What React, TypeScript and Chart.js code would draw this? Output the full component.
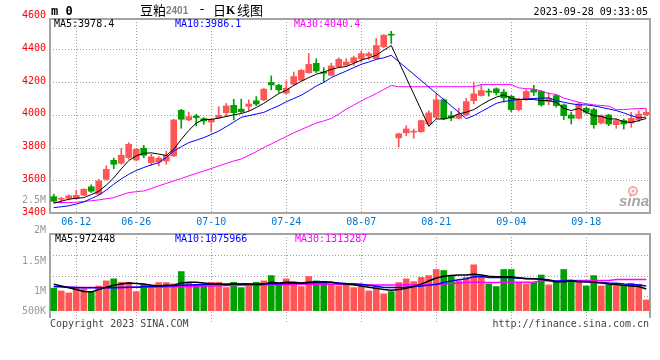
import React, { useEffect, useRef } from "react";
import { Chart, registerables } from "chart.js";
Chart.register(...registerables);

// ---------- data ----------
const dates = [
  "06-07","06-08","06-09","06-12","06-13","06-14","06-15","06-16","06-19","06-20","06-21","06-26","06-27","06-28","06-29","06-30",
  "07-03","07-04","07-05","07-06","07-07","07-10","07-11","07-12","07-13","07-14","07-17","07-18","07-19","07-20","07-21","07-24","07-25","07-26","07-27","07-28","07-31",
  "08-01","08-02","08-03","08-04","08-07","08-08","08-09","08-10","08-11","08-14","08-15","08-16","08-17","08-18","08-21","08-22","08-23","08-24","08-25","08-28","08-29","08-30","08-31",
  "09-01","09-04","09-05","09-06","09-07","09-08","09-11","09-12","09-13","09-14","09-15","09-18","09-19","09-20","09-21","09-22","09-25","09-26","09-27","09-28",
];
const tickDates = ["06-12","06-26","07-10","07-24","08-07","08-21","09-04","09-18"];

const openP = [3500,3484,3490,3488,3509,3560,3515,3606,3722,3704, 3739,3724,3796,3708,3712,3718,3749,4028,3969,3993, 3977,3956,3983,4013,4058,4035,4052,4086,4092,4198, 4181,4133,4187,4212,4258,4315,4262,4242,4295,4303, 4319,4343,4360,4343,4416,4491,3859,3890,3894,3897, 3945,3985,4092,3995,3979,4000,4087,4118,4143,4159, 4139,4114,4032,4098,4155,4143,4081,4118,4061,3999, 3979,4040,4032,3950,3999,3940,3965,3950,3971,4001];
const highP = [3515,3495,3511,3539,3549,3572,3606,3688,3735,3794, 3830,3793,3814,3759,3745,3779,3973,4034,4017,4003, 3983,3977,4050,4070,4095,4096,4092,4112,4161,4238, 4187,4208,4262,4278,4376,4343,4289,4315,4349,4343, 4360,4390,4384,4467,4491,4511,3888,3934,3914,3967, 4025,4128,4098,4020,4040,4102,4200,4184,4159,4165, 4155,4118,4102,4155,4180,4149,4135,4122,4067,4016, 4077,4046,4040,3999,4003,3975,3975,4016,4026,4036];
const lowP = [3465,3460,3480,3484,3505,3525,3511,3602,3671,3698, 3729,3718,3739,3692,3688,3698,3745,3918,3963,3932, 3942,3895,3977,3989,3969,4011,4025,4056,4086,4153, 4137,4127,4181,4208,4254,4258,4198,4238,4289,4299, 4303,4323,4339,4339,4410,4436,3803,3873,3857,3893, 3940,3979,3971,3965,3975,3995,4067,4114,4114,4122, 4077,4020,4026,4087,4118,4053,4061,4047,3971,3944, 3975,4006,3918,3944,3934,3918,3913,3924,3958,3995];
const closeP = [3472,3490,3505,3508,3545,3533,3596,3667,3698,3753, 3820,3789,3753,3743,3735,3753,3969,3973,3989,3983, 3963,3973,3997,4054,4013,4019,4066,4066,4157,4183, 4153,4163,4234,4272,4309,4268,4254,4299,4339,4323, 4349,4374,4374,4424,4487,4487,3884,3914,3900,3965, 4012,4092,3975,3981,4001,4081,4128,4149,4139,4135, 4104,4032,4094,4143,4139,4061,4102,4057,3995,3979, 4067,4016,3940,3995,3944,3965,3944,3979,4005,4016];

const ma5 = [3460,3472,3484,3490,3494,3512,3533,3570,3615,3670, 3720,3750,3765,3768,3760,3752,3790,3850,3905,3950, 3972,3972,3980,3990,4000,4008,4022,4045,4070,4100, 4130,4150,4180,4205,4228,4248,4262,4278,4290,4295, 4315,4335,4348,4365,4395,4424,null,null,null,null, 3930,3975,3975,3985,4006,4016,4032,4061,4087,4108, 4122,4102,4094,4094,4094,4087,4087,4077,4040,4026, 4040,4016,3995,3991,3975,3975,3958,3954,3965,3978];
const ma10 = [3433,3438,3444,3455,3468,3488,3509,3540,3576,3608, 3637,3660,3678,3694,3708,3740,3779,3805,3830,3845, 3861,3880,3901,3928,3956,3985,3995,4005,4015,4036, 4056,4080,4100,4120,4147,4177,4198,4228,4248,4268, 4289,4309,4323,4339,4349,4364,null,null,null,null, null,null,null,null,null,3977,3995,4020,4045,4070, 4082,4088,4094,4097,4100,4102,4104,4087,4077,4068, 4061,4061,4055,4046,4036,4026,4012,3995,3982,3986];
const ma30 = [3464,3464,3464,3466,3470,3475,3480,3487,3494,3510, 3525,3530,3535,3550,3566,3581,3596,3611,3627,3642, 3657,3672,3688,3703,3718,3730,3752,3775,3800,3822, 3845,3868,3890,3910,3930,3950,3963,3978,4005,4035, 4060,4085,4108,4130,4155,4180,4172,4172,4172,4172, 4172,4172,4172,4172,4172,4172,4172,4185,4185,4185, 4185,4185,4165,4160,4158,4145,4130,4125,4102,4090, 4077,4068,4061,4057,4053,4032,4032,4036,4038,4040];

const volumeK = [1053,1008,975,1060,1040,997,1090,1173,1206,1150, 1150,997,1118,1107,1145,1145,1124,1326,1135,1107, 1107,1150,1150,1063,1150,1063,1107,1150,1173,1260, 1118,1206,1150,1080,1245,1173,1160,1118,1090,1118, 1063,1090,1008,1080,960,997,1145,1206,1160,1230, 1260,1360,1343,1245,1173,1230,1437,1255,1124,1080, 1360,1360,1150,1124,1150,1270,1107,1150,1360,1150, 1180,1090,1260,1090,1107,1090,1090,1135,1118,860];
const volMA5K = [1120,1090,1060,1030,1000,990,1030,1070,1100,1120, 1140,1130,1120,1100,1090,1100,1100,1140,1150,1150, 1140,1120,1120,1110,1120,1120,1120,1110,1120,1150, 1140,1150,1150,1140,1150,1160,1160,1150,1130,1120, 1110,1090,1070,1050,1030,1020,1030,1050,1080,1120, 1170,1220,1250,1260,1270,1270,1280,1270,1250,1240, 1240,1240,1220,1210,1210,1200,1180,1160,1160,1170, 1160,1160,1150,1140,1120,1110,1100,1090,1080,1040];
const volMA10K = [1080,1075,1070,1065,1060,1060,1060,1060,1062,1065, 1068,1070,1075,1080,1085,1090,1095,1100,1105,1110, 1115,1118,1120,1120,1120,1120,1120,1120,1120,1125, 1125,1130,1135,1135,1140,1145,1145,1150,1140,1130, 1125,1118,1100,1085,1063,1063,1063,1070,1080,1090, 1100,1118,1145,1173,1190,1206,1240,1245,1230,1228, 1228,1225,1220,1212,1206,1198,1190,1165,1175,1185, 1165,1160,1152,1148,1140,1135,1122,1115,1107,1090];
const volMA30K = [1080,1075,1070,1066,1064,1063,1063,1063,1064,1065, 1066,1067,1068,1069,1070,1072,1075,1078,1082,1085, 1088,1090,1093,1096,1099,1101,1103,1105,1107,1108, 1110,1112,1114,1116,1118,1119,1120,1118,1115,1112, 1110,1108,1107,1107,1107,1107,1107,1108,1110,1110, 1112,1115,1120,1130,1140,1145,1150,1150,1148,1148, 1150,1150,1150,1150,1152,1175,1176,1176,1177,1177, 1178,1178,1178,1178,1178,1195,1196,1196,1196,1196];

const priceTicks = [4600, 4400, 4200, 4000, 3800, 3600, 3400];
const priceGrid = [4400, 4200, 4000, 3800, 3600];
const volTickValues = [2500, 2000, 1500, 1000, 500];
const volTickLabels = ["2.5M", "2M", "1.5M", "1M", "500K"];
const volGrid = [1590, 1260, 930];

const mainLegend = ["MA5:3978.4", "MA10:3986.1", "MA30:4040.4"];
const volLegend = ["MA5:972448", "MA10:1075966", "MA30:1313287"];
const titleName = "豆粕";
const titleCode = "2401";
const timestamp = "2023-09-28 09:33:05";
const footLeft = "Copyright 2023 SINA.COM";
const footRight = "http://finance.sina.com.cn";

// ---------- styles ----------
const RED = "#ff5555";
const GREEN = "#00a000";
const MONO = '10px "DejaVu Sans Mono"';
const GRID = "#a0a0a0";
const FRAME = "#a4a4a4";

const candleColors = dates.map((_, i) => (closeP[i] >= openP[i] ? RED : GREEN));

function txt(ctx: CanvasRenderingContext2D, s: string, x: number, y: number, color: string, font: string, align: CanvasTextAlign = "left") {
  ctx.fillStyle = color;
  ctx.font = font;
  ctx.textAlign = align;
  ctx.textBaseline = "middle";
  ctx.fillText(s, x, y);
}

const mainDecor = {
  id: "mainDecor",
  beforeDatasetsDraw(chart: any) {
    const { ctx, chartArea: a, scales } = chart;
    const x = scales.x, y = scales.y;
    ctx.save();
    ctx.strokeStyle = GRID;
    ctx.lineWidth = 1;
    ctx.setLineDash([1, 2]);
    ctx.beginPath();
    priceGrid.forEach((v) => {
      const p = Math.round(y.getPixelForValue(v)) + 0.5;
      ctx.moveTo(a.left, p);
      ctx.lineTo(a.right, p);
    });
    tickDates.forEach((d) => {
      const p = Math.round(x.getPixelForValue(dates.indexOf(d))) + 0.5;
      ctx.moveTo(p, a.top);
      ctx.lineTo(p, a.bottom);
    });
    ctx.stroke();
    ctx.setLineDash([]);
    ctx.strokeStyle = FRAME;
    ctx.lineWidth = 2;
    ctx.strokeRect(a.left, a.top, a.right - a.left, a.bottom - a.top);
    // sina watermark
    ctx.strokeStyle = "rgba(240,150,150,0.8)";
    ctx.lineWidth = 2;
    ctx.beginPath();
    ctx.arc(633, 191, 4, 0, Math.PI * 2);
    ctx.stroke();
    ctx.fillStyle = "rgba(240,150,150,0.8)";
    ctx.beginPath();
    ctx.arc(633, 191, 1.5, 0, Math.PI * 2);
    ctx.fill();
    txt(ctx, "sina", 634, 202, "rgba(150,150,150,0.85)", 'italic bold 15px "Liberation Sans"', "center");
    ctx.restore();
  },
  afterDraw(chart: any) {
    const { ctx, scales } = chart;
    const x = scales.x, y = scales.y;
    ctx.save();
    txt(ctx, "m 0", 51, 12, "#000", 'bold 12px "DejaVu Sans Mono"');
    txt(ctx, titleName, 140, 10, "#000", '13px "Noto Sans CJK SC"');
    txt(ctx, titleCode, 166, 11, "#808080", 'bold 10px "Liberation Sans"');
    txt(ctx, "-", 202, 10, "#000", '13px "DejaVu Sans"', "center");
    txt(ctx, "日", 213, 10, "#000", '13px "Noto Sans CJK SC"');
    txt(ctx, "K", 226, 11, "#000", 'bold 12px "Liberation Serif"');
    txt(ctx, "线图", 237, 10, "#000", '13px "Noto Sans CJK SC"');
    txt(ctx, timestamp, 648, 12, "#000", MONO, "right");
    txt(ctx, mainLegend[0], 54, 24, "#000", MONO);
    txt(ctx, mainLegend[1], 175, 24, "#0000ff", MONO);
    txt(ctx, mainLegend[2], 294, 24, "#ff00ff", MONO);
    priceTicks.forEach((v) => txt(ctx, String(v), 46, y.getPixelForValue(v) - 1, "#ff0000", MONO, "right"));
    tickDates.forEach((d) => txt(ctx, d, x.getPixelForValue(dates.indexOf(d)), 222, "#0078d0", MONO, "center"));
    txt(ctx, footLeft, 50, 324, "#444", MONO);
    txt(ctx, footRight, 649, 324, "#444", MONO, "right");
    ctx.restore();
  },
};

const volDecor = {
  id: "volDecor",
  beforeDatasetsDraw(chart: any) {
    const { ctx, chartArea: a, scales } = chart;
    const x = scales.x, y = scales.y;
    ctx.save();
    ctx.strokeStyle = GRID;
    ctx.lineWidth = 1;
    ctx.setLineDash([1, 2]);
    ctx.beginPath();
    volGrid.forEach((v) => {
      const p = Math.round(y.getPixelForValue(v)) + 0.5;
      ctx.moveTo(a.left, p);
      ctx.lineTo(a.right, p);
    });
    tickDates.forEach((d) => {
      const p = Math.round(x.getPixelForValue(dates.indexOf(d))) + 0.5;
      ctx.moveTo(p, a.top);
      ctx.lineTo(p, a.bottom + 11);
    });
    ctx.stroke();
    ctx.setLineDash([]);
    ctx.strokeStyle = FRAME;
    ctx.lineWidth = 2;
    ctx.beginPath();
    ctx.moveTo(a.left, a.bottom + 7);
    ctx.lineTo(a.left, a.top);
    ctx.lineTo(a.right, a.top);
    ctx.lineTo(a.right, a.bottom + 7);
    ctx.stroke();
    ctx.restore();
  },
  afterDraw(chart: any) {
    const { ctx, chartArea: a, scales } = chart;
    const y = scales.y;
    ctx.save();
    volTickValues.forEach((v, i) => {
      const p = Math.min(y.getPixelForValue(v), a.bottom);
      txt(ctx, volTickLabels[i], 46, p, "#999", MONO, "right");
    });
    txt(ctx, volLegend[0], 55, 239, "#000", MONO);
    txt(ctx, volLegend[1], 175, 239, "#0000ff", MONO);
    txt(ctx, volLegend[2], 295, 239, "#ff00ff", MONO);
    ctx.restore();
  },
};

function lineDs(label: string, data: (number | null)[], color: string, width: number) {
  return {
    type: "line" as const,
    label,
    data,
    borderColor: color,
    borderWidth: width,
    pointRadius: 0,
    tension: 0,
    spanGaps: true,
    order: 0,
  };
}

export default function App() {
  const mainRef = useRef<HTMLCanvasElement>(null);
  const volRef = useRef<HTMLCanvasElement>(null);

  useEffect(() => {
    const main = new Chart(mainRef.current!, {
      type: "bar",
      data: {
        labels: dates,
        datasets: [
          lineDs("MA5", ma5, "#000000", 1),
          lineDs("MA10", ma10, "#0000ff", 1),
          lineDs("MA30", ma30, "#ff00ff", 1),
          {
            type: "bar",
            label: "body",
            data: dates.map((_, i) => [openP[i], closeP[i]]),
            backgroundColor: candleColors,
            barThickness: 6,
            minBarLength: 1,
            grouped: false,
            order: 1,
          } as any,
          {
            type: "bar",
            label: "wick",
            data: dates.map((_, i) => [lowP[i], highP[i]]),
            backgroundColor: candleColors,
            barThickness: 1,
            grouped: false,
            order: 2,
          } as any,
        ],
      },
      options: {
        responsive: false,
        animation: false,
        events: [],
        layout: { padding: { left: 50, right: 10, top: 19, bottom: 147 } },
        plugins: { legend: { display: false }, tooltip: { enabled: false } },
        scales: {
          x: { display: false, offset: true },
          y: { display: false, min: 3400, max: 4586 },
        },
      },
      plugins: [mainDecor],
    });

    const vol = new Chart(volRef.current!, {
      type: "bar",
      data: {
        labels: dates,
        datasets: [
          lineDs("VMA5", volMA5K, "#000000", 1.5),
          lineDs("VMA10", volMA10K, "#0000ff", 1.5),
          lineDs("VMA30", volMA30K, "#ff00ff", 1.5),
          {
            type: "bar",
            label: "volume",
            data: volumeK,
            backgroundColor: candleColors,
            barThickness: 6,
            grouped: false,
            order: 1,
          } as any,
        ],
      },
      options: {
        responsive: false,
        animation: false,
        events: [],
        layout: { padding: { left: 50, right: 10, top: 234, bottom: 49 } },
        plugins: { legend: { display: false }, tooltip: { enabled: false } },
        scales: {
          x: { display: false, offset: true },
          y: { display: false, min: 679, max: 1942 },
        },
      },
      plugins: [volDecor],
    });

    return () => {
      main.destroy();
      vol.destroy();
    };
  }, []);

  return (
    <div style={{ position: "absolute", left: 0, top: 0, width: 660, height: 360, background: "#fff" }}>
      <canvas ref={mainRef} width={660} height={360} style={{ position: "absolute", left: 0, top: 0 }} />
      <canvas ref={volRef} width={660} height={360} style={{ position: "absolute", left: 0, top: 0 }} />
    </div>
  );
}
